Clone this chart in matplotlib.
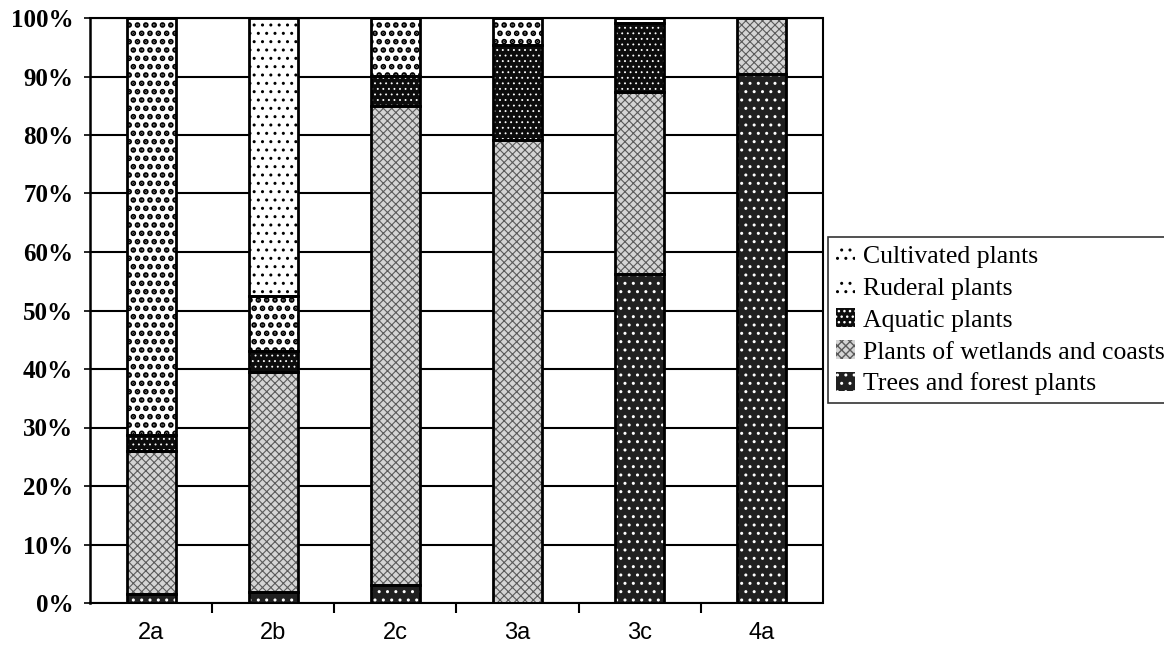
import numpy as np
import matplotlib
matplotlib.use("Agg")
import matplotlib.pyplot as plt
from matplotlib.patches import Patch

# -----------------------------
# Data (percent of each sample)
# -----------------------------
samples = ["2a", "2b", "2c", "3a", "3c", "4a"]
trees = [1.5, 1.8, 3.1, 0.0, 56.2, 90.5]
wetlands = [24.4, 37.7, 81.9, 79.1, 31.2, 9.5]
aquatic = [2.9, 3.5, 5.1, 16.3, 11.7, 0.0]
ruderal = [71.2, 9.4, 9.9, 4.6, 0.9, 0.0]
cultivated = [0.0, 47.6, 0.0, 0.0, 0.0, 0.0]

# name, values, face, hatch colour, hatch, hatch line width
series = [
    ("Trees and forest plants", trees, "#202020", "white", "..", 1.0),
    ("Plants of wetlands and coasts", wetlands, "#d4d4d4", "#5a5a5a", "xxxx", 0.8),
    ("Aquatic plants", aquatic, "#0c0c0c", "white", "...", 0.6),
    ("Ruderal plants", ruderal, "white", "black", "..", 2.8),
    ("Cultivated plants", cultivated, "white", "black", "..", 1.0),
]

fig = plt.figure(figsize=(11.64, 6.5), dpi=100)
ax = fig.add_axes([90 / 1164, 1 - 603 / 650, 733 / 1164, 585 / 650])

x = np.arange(len(samples))
width = 0.4
bottom = np.zeros(len(samples))
handles = []
for name, vals, fc, hc, hatch, hlw in series:
    vals = np.array(vals)
    with plt.rc_context({"hatch.linewidth": hlw}):
        ax.bar(x, vals, width, bottom=bottom, color=fc, edgecolor=hc,
               hatch=hatch, linewidth=0, zorder=3)
        handles.append(Patch(facecolor=fc, edgecolor=hc, hatch=hatch, linewidth=0))
    # black outline over the hatched segment
    ax.bar(x, vals, width, bottom=bottom, fill=False, edgecolor="black",
           linewidth=2, zorder=4)
    bottom += vals

ax.set_xlim(-0.5, len(samples) - 0.5)
ax.set_ylim(0, 100)
ax.set_yticks(np.arange(0, 101, 10))
ax.set_yticklabels([f"{v}%" for v in range(0, 101, 10)],
                   fontfamily="Liberation Serif", fontweight="bold", fontsize=18)
ax.set_xticks(x)
ax.set_xticklabels(samples, fontfamily="Liberation Sans", fontsize=17)
ax.set_xticks(np.arange(0.5, len(samples) - 0.5, 1), minor=True)
ax.tick_params(axis="x", which="major", length=0, pad=14)
ax.tick_params(axis="x", which="minor", length=7, width=1.5, direction="out")
ax.tick_params(axis="y", length=8, width=1.2, direction="inout", pad=8)

ax.yaxis.grid(True, color="black", linewidth=1.5, zorder=1)
ax.set_axisbelow(True)
for side in ["top", "right", "bottom"]:
    ax.spines[side].set_linestyle((0, (1, 1)))
    ax.spines[side].set_linewidth(1.5)
ax.spines["left"].set_linewidth(1.8)

leg = fig.legend(handles[::-1], [s[0] for s in series][::-1],
                 loc="upper left", bbox_to_anchor=(828 / 1164, 1 - 237 / 650),
                 prop={"family": "Liberation Serif", "size": 18.5},
                 frameon=True, fancybox=False, handlelength=0.75,
                 handleheight=0.75, handletextpad=0.3, labelspacing=0.33,
                 borderpad=0.3, borderaxespad=0)
leg.get_frame().set_edgecolor("black")
leg.get_frame().set_linewidth(1.2)

fig.savefig("out.png", dpi=100)
